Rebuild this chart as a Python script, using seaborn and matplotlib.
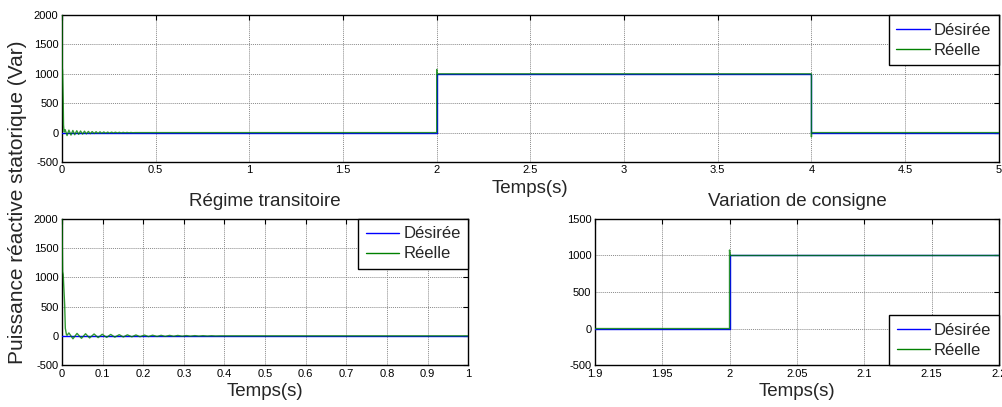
import matplotlib
matplotlib.use("Agg")
import matplotlib.pyplot as plt
import seaborn as sns
import pandas as pd
from matplotlib.ticker import FuncFormatter

# Reference (desired) reactive power: step up at 2 s, step down at 4 s
t_desiree = [0.0, 2.0, 2.0, 4.0, 4.0, 5.0]
q_desiree = [0.0, 0.0, 1000.0, 1000.0, 0.0, 0.0]

# Measured (real) stator reactive power
t_reelle = [0.0, 0.0015, 0.003, 0.0066, 0.0082, 0.011, 0.0125,
            0.017, 0.027, 0.037, 0.048, 0.058, 0.068, 0.079, 0.089, 0.099,
            0.110, 0.120, 0.130, 0.141, 0.151, 0.161, 0.172, 0.182, 0.192,
            0.203, 0.213, 0.223, 0.234, 0.244, 0.254, 0.265, 0.275, 0.285,
            0.296, 0.306, 0.316, 0.327, 0.337, 0.347, 0.358, 0.368, 0.378,
            0.390,
            2.0, 2.0, 2.0005, 4.0, 4.0, 4.0005, 5.0]
q_reelle = [2000.0, 1100.0, 1050.0, 530.0, 130.0, 20.0, 10.0,
            50.0, -50.0, 42.0, -42.0, 36.0, -36.0, 32.0, -30.0, 27.0,
            -26.0, 24.0, -22.0, 20.0, -19.0, 17.0, -16.0, 15.0, -14.0,
            13.0, -12.0, 11.0, -10.0, 9.0, -9.0, 8.0, -7.0, 7.0,
            -6.0, 5.0, -5.0, 4.0, -4.0, 3.0, -3.0, 2.0, -2.0,
            0.0,
            0.0, 1075.0, 1000.0, 1000.0, -75.0, 0.0, 0.0]

# Axis limits and ticks of the three panels
xticks_top = [0, 0.5, 1, 1.5, 2, 2.5, 3, 3.5, 4, 4.5, 5]
yticks_top = [-500, 0, 500, 1000, 1500, 2000]
xticks_trans = [0, 0.1, 0.2, 0.3, 0.4, 0.5, 0.6, 0.7, 0.8, 0.9, 1]
yticks_trans = [-500, 0, 500, 1000, 1500, 2000]
xticks_step = [1.9, 1.95, 2, 2.05, 2.1, 2.15, 2.2]
yticks_step = [-500, 0, 500, 1000, 1500]

label_desiree = "Désirée"
label_reelle = "Réelle"
xlabel = "Temps(s)"
ylabel = "Puissance réactive statorique (Var)"
title_trans = "Régime transitoire"
title_step = "Variation de consigne"

df_des = pd.DataFrame({"t": t_desiree, "q": q_desiree})
df_ree = pd.DataFrame({"t": t_reelle, "q": q_reelle})

sns.set_style("white")
plt.rcParams["font.family"] = ["Liberation Sans", "DejaVu Sans"]

fig = plt.figure(figsize=(10.03, 4.07), dpi=100)
ax_top = fig.add_axes([0.0618, 0.602, 0.934, 0.361])
ax_bl = fig.add_axes([0.0618, 0.103, 0.405, 0.359])
ax_br = fig.add_axes([0.593, 0.103, 0.403, 0.359])

fmt = FuncFormatter(lambda v, p: f"{v:g}")


def draw(ax, xlim, ylim, xt, yt, legend_loc):
    sns.lineplot(data=df_des, x="t", y="q", ax=ax, color="#0000ff",
                 lw=1.0, sort=False, estimator=None, label=label_desiree,
                 zorder=3)
    sns.lineplot(data=df_ree, x="t", y="q", ax=ax, color="#008000",
                 lw=1.0, alpha=0.8, sort=False, estimator=None,
                 label=label_reelle, zorder=3.1)
    ax.set_xlim(*xlim)
    ax.set_ylim(*ylim)
    ax.set_xticks(xt)
    ax.set_yticks(yt)
    ax.xaxis.set_major_formatter(fmt)
    ax.yaxis.set_major_formatter(fmt)
    ax.grid(True, color="#8a8a8a", linestyle=(0, (1, 1)), linewidth=0.7)
    ax.tick_params(direction="in", top=True, right=True, length=3.5,
                   width=0.8, labelsize=8, pad=2.5, colors="black")
    for s in ax.spines.values():
        s.set_color("black")
        s.set_linewidth(1.0)
    ax.set_xlabel("")
    ax.set_ylabel("")
    leg = ax.legend(loc=legend_loc, fontsize=12, frameon=True, fancybox=False,
                    framealpha=1, edgecolor="black", borderaxespad=0,
                    handlelength=2.0, handletextpad=0.25, borderpad=0.45,
                    labelspacing=0.3)
    leg.get_frame().set_linewidth(1.0)
    leg.set_zorder(10)
    for h in leg.legend_handles:
        h.set_alpha(1.0)


draw(ax_top, (0, 5), (-500, 2000), xticks_top, yticks_top, "upper right")
draw(ax_bl, (0, 1), (-500, 2000), xticks_trans, yticks_trans, "upper right")
draw(ax_br, (1.9, 2.2), (-500, 1500), xticks_step, yticks_step, "lower right")

ax_top.set_xlabel(xlabel, fontsize=13.5, labelpad=3)
ax_bl.set_xlabel(xlabel, fontsize=13.5, labelpad=3)
ax_br.set_xlabel(xlabel, fontsize=13.5, labelpad=3)
ax_bl.set_title(title_trans, fontsize=13.5, pad=9)
ax_br.set_title(title_step, fontsize=13.5, pad=9)

fig.text(0.0175, 0.503, ylabel, rotation=90, fontsize=15,
         ha="center", va="center")

fig.savefig("out.png", dpi=100)
